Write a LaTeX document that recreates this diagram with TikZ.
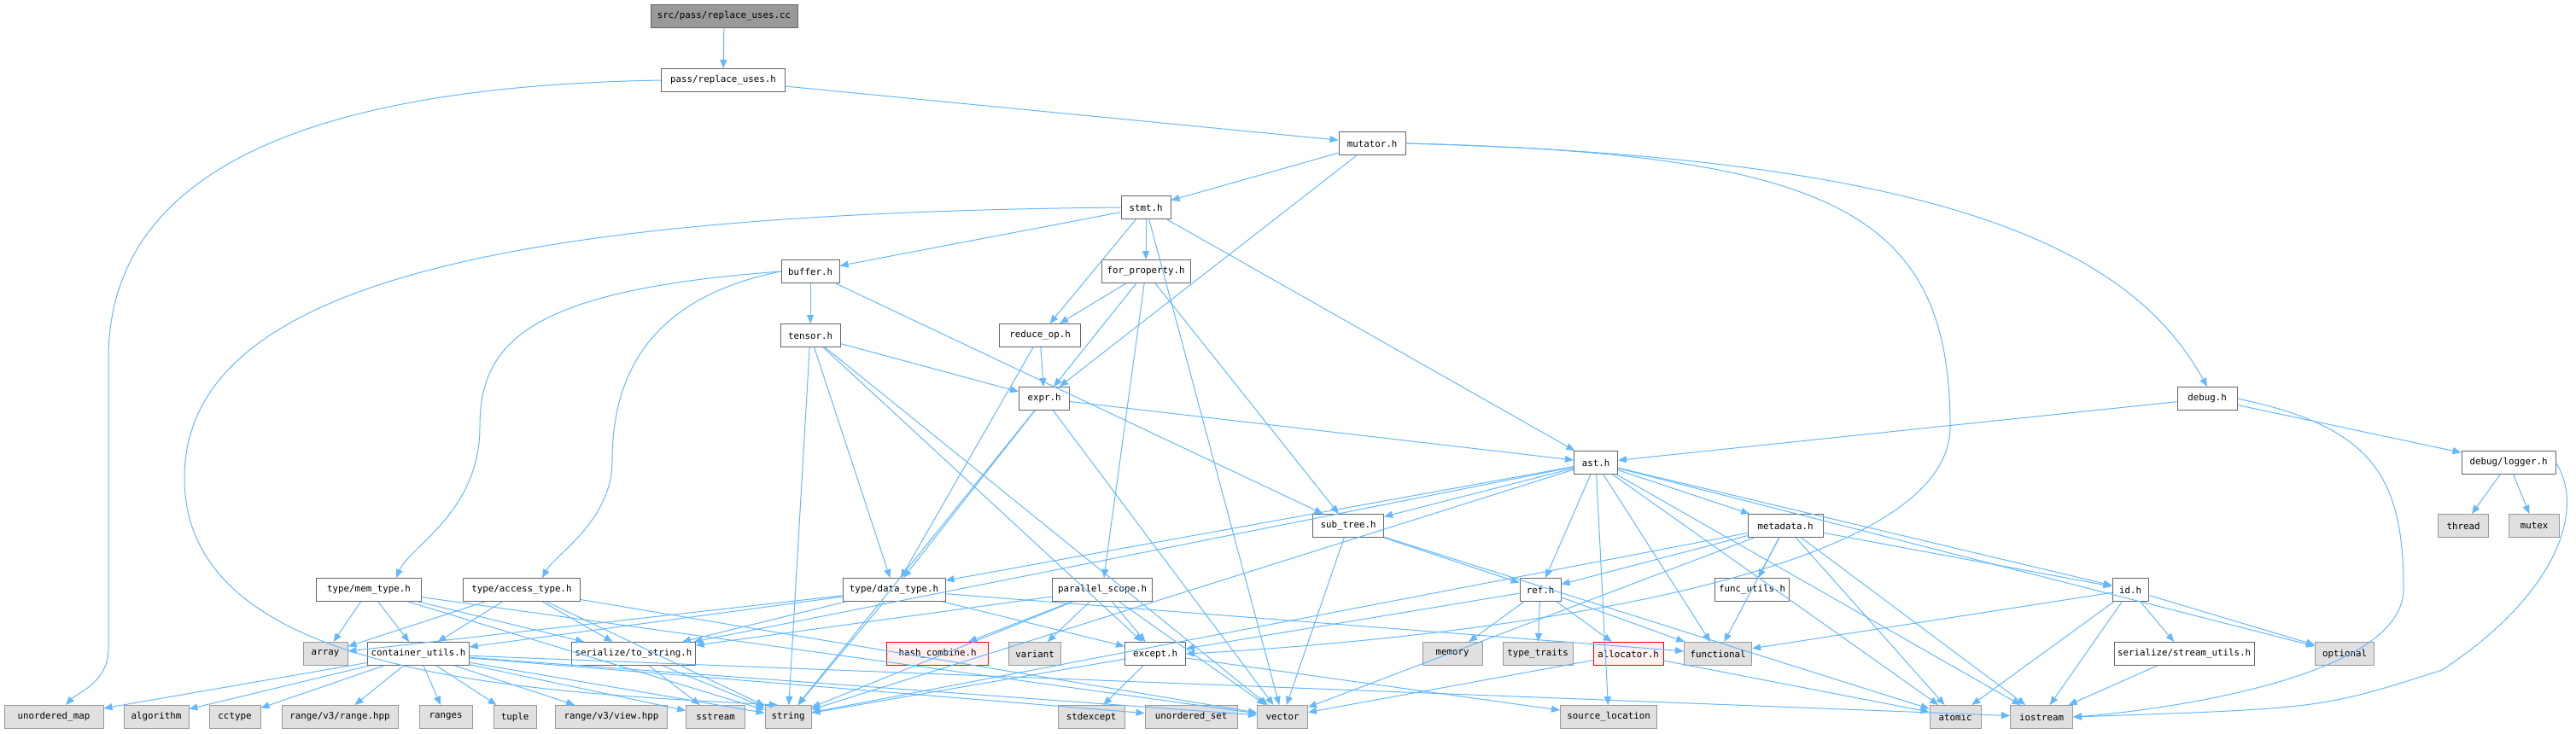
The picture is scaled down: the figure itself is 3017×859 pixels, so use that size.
\documentclass[tikz,border=0pt]{standalone}
\usepackage{fontspec}
\newfontfamily\dxfont{DejaVu Sans Mono}
\usetikzlibrary{arrows.meta}
\definecolor{edgeblue}{HTML}{63B8FF}
\definecolor{boxgray}{HTML}{666666}
\definecolor{sysgray}{HTML}{999999}
\definecolor{sysfill}{HTML}{E0E0E0}
\definecolor{missfill}{HTML}{FFF0F0}
\begin{document}
\begin{tikzpicture}[x=0.5pt, y=-0.5pt,
    hdr/.style={draw=boxgray, fill=white, line width=0.5pt, minimum height=13.5pt,
      inner xsep=2pt, inner ysep=0pt, font=\dxfont\fontsize{5.4}{6}\selectfont},
    sys/.style={hdr, draw=sysgray, fill=sysfill},
    root/.style={hdr, fill=sysgray},
    missing/.style={hdr, draw=red, fill=missfill},
    dep/.style={draw=edgeblue, line width=0.5pt, -{Triangle[length=5pt, width=4pt]}}]
  \useasboundingbox (0,0) rectangle (3017,859);

  % project headers
  \node[root, minimum width=86pt] (cc) at (848,19) {src/pass/replace\_uses.cc};
  \node[hdr, minimum width=72.5pt] (prh) at (847,94) {pass/replace\_uses.h};
  \node[hdr, minimum width=39pt] (mutator) at (1607,168) {mutator.h};
  \node[hdr, minimum width=29pt] (stmt) at (1342,243) {stmt.h};
  \node[hdr, minimum width=34pt] (buffer) at (949,318) {buffer.h};
  \node[hdr, minimum width=52pt] (forprop) at (1342,318) {for\_property.h};
  \node[hdr, minimum width=35pt] (tensor) at (949,393) {tensor.h};
  \node[hdr, minimum width=47.5pt] (reduceop) at (1218,393) {reduce\_op.h};
  \node[hdr, minimum width=29.5pt] (expr) at (1223,467) {expr.h};
  \node[hdr, minimum width=35pt] (debug) at (2585,467) {debug.h};
  \node[hdr, minimum width=25.5pt] (ast) at (1869,542) {ast.h};
  \node[hdr, minimum width=55pt] (logger) at (2938,542) {debug/logger.h};
  \node[hdr, minimum width=41.5pt] (subtree) at (1579,616) {sub\_tree.h};
  \node[hdr, minimum width=44pt] (metadata) at (2091,616) {metadata.h};
  \node[hdr, minimum width=61.5pt] (memtype) at (432,691) {type/mem\_type.h};
  \node[hdr, minimum width=68.5pt] (accesstype) at (611,691) {type/access\_type.h};
  \node[hdr, minimum width=60pt] (datatype) at (1047,691) {type/data\_type.h};
  \node[hdr, minimum width=58.5pt] (parscope) at (1291,691) {parallel\_scope.h};
  \node[hdr, minimum width=24pt] (ref) at (1804,691) {ref.h};
  \node[hdr, minimum width=43.5pt] (funcutils) at (2052,691) {func\_utils.h};
  \node[hdr, minimum width=21pt] (id) at (2495,691) {id.h};
  \node[hdr, minimum width=58.5pt] (cutils) at (490,766) {container\_utils.h};
  \node[hdr, minimum width=68pt] (tostring) at (742,766) {serialize/to\_string.h};
  \node[missing, minimum width=59.5pt] (hashcomb) at (1098,766) {hash\_combine.h};
  \node[hdr, minimum width=35.5pt] (except) at (1353,766) {except.h};
  \node[missing, minimum width=41pt] (allocator) at (1907,766) {allocator.h};
  \node[hdr, minimum width=78.5pt] (streamutils) at (2558,766) {serialize/stream\_utils.h};

  % system headers
  \node[sys, minimum width=29.5pt] (thread) at (2885,616) {thread};
  \node[sys, minimum width=29.5pt] (mutex) at (2968,616) {mutex};
  \node[sys, minimum width=26pt] (array) at (381,766) {array};
  \node[sys, minimum width=30.5pt] (variant) at (1212,766) {variant};
  \node[sys, minimum width=35pt] (memory) at (1701,766) {memory};
  \node[sys, minimum width=41pt] (typetraits) at (1801,766) {type\_traits};
  \node[sys, minimum width=39.5pt] (functional) at (2012,766) {functional};
  \node[sys, minimum width=34.5pt] (optional) at (2746,766) {optional};
  \node[sys, minimum width=58pt] (umap) at (63,840) {unordered\_map};
  \node[sys, minimum width=38pt] (algorithm) at (183,840) {algorithm};
  \node[sys, minimum width=30pt] (cctype) at (275,840) {cctype};
  \node[sys, minimum width=68pt] (rangehpp) at (398,840) {range/v3/range.hpp};
  \node[sys, minimum width=31pt] (ranges) at (522,840) {ranges};
  \node[sys, minimum width=25pt] (tuple) at (603,840) {tuple};
  \node[sys, minimum width=65.5pt] (viewhpp) at (716,840) {range/v3/view.hpp};
  \node[sys, minimum width=34.5pt] (sstream) at (838,840) {sstream};
  \node[sys, minimum width=27pt] (string) at (923,840) {string};
  \node[sys, minimum width=39pt] (stdexcept) at (1278,840) {stdexcept};
  \node[sys, minimum width=54pt] (uset) at (1395,840) {unordered\_set};
  \node[sys, minimum width=29.5pt] (vector) at (1502,840) {vector};
  \node[sys, minimum width=56.5pt] (srcloc) at (1884,840) {source\_location};
  \node[sys, minimum width=30pt] (atomic) at (2290,840) {atomic};
  \node[sys, minimum width=36.5pt] (iostream) at (2391,840) {iostream};

  % includes
  \foreach \a/\b in {cc/prh, prh/mutator, mutator/stmt, mutator/expr,
      stmt/buffer, stmt/reduceop, stmt/forprop, stmt/vector, stmt/ast,
      buffer/tensor, buffer/subtree,
      forprop/reduceop, forprop/expr, forprop/parscope, forprop/subtree,
      reduceop/expr, reduceop/datatype,
      tensor/expr, tensor/datatype, tensor/string, tensor/vector, tensor/except,
      expr/ast, expr/datatype, expr/string, expr/vector,
      debug/ast, debug/logger, logger/thread, logger/mutex,
      ast/datatype, ast/tostring, ast/string, ast/subtree, ast/ref, ast/functional,
      ast/metadata, ast/id, ast/optional, ast/iostream, ast/atomic, ast/srcloc,
      metadata/ref, metadata/funcutils, metadata/id, metadata/functional,
      metadata/atomic, metadata/iostream, metadata/string, metadata/vector,
      subtree/ref, subtree/vector, subtree/atomic,
      ref/except, ref/memory, ref/typetraits, ref/allocator, ref/functional,
      allocator/atomic, allocator/vector,
      id/functional, id/streamutils, id/optional, id/iostream, id/atomic,
      streamutils/iostream,
      parscope/hashcomb, parscope/variant, parscope/except, parscope/string,
      parscope/tostring, parscope/vector,
      datatype/array, datatype/cutils, datatype/tostring, datatype/except,
      datatype/string, datatype/functional,
      memtype/array, memtype/cutils, memtype/tostring, memtype/string, memtype/vector,
      accesstype/array, accesstype/cutils, accesstype/tostring, accesstype/string,
      accesstype/vector,
      cutils/umap, cutils/algorithm, cutils/cctype, cutils/rangehpp, cutils/ranges,
      cutils/tuple, cutils/viewhpp, cutils/sstream, cutils/string, cutils/vector,
      cutils/uset, cutils/iostream,
      tostring/sstream, tostring/string,
      except/stdexcept, except/string, except/srcloc}
    \draw[dep] (\a) -- (\b);

  % long curved includes
  \draw[dep] (prh.west) .. controls (430,100) and (127,170) .. (127,420)
    -- (127,760) .. controls (127,800) and (90,812) .. ([xshift=7pt]umap.north);
  \draw[dep] (stmt.west) .. controls (600,250) and (216,330) .. (216,560)
    .. controls (216,790) and (600,810) .. ([xshift=-6pt]string.north);
  \draw[dep] (buffer.west) .. controls (620,340) and (562,400) .. (562,500)
    .. controls (562,600) and (480,640) .. ([xshift=16pt]memtype.north);
  \draw[dep] (buffer.west) .. controls (780,345) and (717,420) .. (717,540)
    .. controls (717,610) and (650,650) .. ([xshift=12pt]accesstype.north);
  \draw[dep] (mutator.east) .. controls (2300,185) and (2500,300) .. (debug.north);
  \draw[dep] (mutator.east) .. controls (2150,180) and (2284,250) .. (2284,500)
    .. controls (2284,700) and (1600,755) .. (except.east);
  \draw[dep] (debug.east) .. controls (2780,500) and (2815,560) .. (2815,690)
    .. controls (2815,800) and (2500,835) .. (iostream.east);
  \draw[dep] (logger.east) .. controls (3030,600) and (2990,700) .. (2860,785)
    .. controls (2720,830) .. (iostream.east);
\end{tikzpicture}
\end{document}
